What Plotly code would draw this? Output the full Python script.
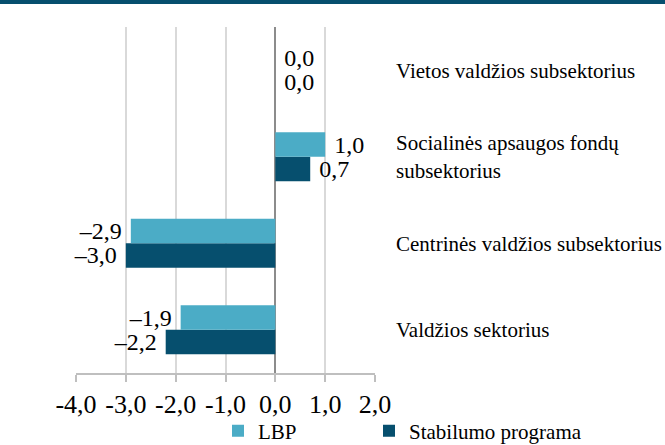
import plotly.graph_objects as go

categories = ["Valdžios sektorius", "Centrinės valdžios subsektorius",
              "Socialinės apsaugos fondų<br>subsektorius", "Vietos valdžios subsektorius"]
lbp = [-1.9, -2.9, 1.0, 0.0]
stab = [-2.2, -3.0, 0.7, 0.0]
tick_vals = [-4, -3, -2, -1, 0, 1, 2]
tick_text = ["-4,0", "-3,0", "-2,0", "-1,0", "0,0", "1,0", "2,0"]

LIGHT = "#4BACC6"
DARK = "#064F6E"
FONT = "Liberation Serif"
NBSP = "\u00a0"


def fmt(v):
    s = f"{abs(v):.1f}".replace(".", ",")
    return ("–" + s + NBSP) if v < 0 else (NBSP + s)


fig = go.Figure()
fig.add_trace(go.Bar(
    y=categories, x=stab, orientation="h", name="Stabilumo programa",
    marker=dict(color=DARK, line=dict(width=0)), text=[fmt(v) for v in stab],
    textposition="outside", cliponaxis=False, constraintext="none",
    textfont=dict(family=FONT, size=24, color="#000000"), legend="legend2",
))
fig.add_trace(go.Bar(
    y=categories, x=lbp, orientation="h", name="LBP",
    marker=dict(color=LIGHT, line=dict(width=0)), text=[fmt(v) for v in lbp],
    textposition="outside", cliponaxis=False, constraintext="none",
    textfont=dict(family=FONT, size=24, color="#000000"), legend="legend",
))

plot_h = 445 - 27 - 72
leg_common = dict(xref="container", xanchor="left", yref="container", y=14 / 445,
                  yanchor="middle", font=dict(family=FONT, size=21, color="#000000"),
                  bgcolor="rgba(0,0,0,0)")
fig.update_layout(
    width=665, height=445,
    margin=dict(l=76, r=290, t=27, b=72, autoexpand=False),
    barmode="group", bargap=0.434, bargroupgap=0,
    plot_bgcolor="white", paper_bgcolor="white",
    font=dict(family=FONT, size=21, color="#000000"),
    showlegend=True,
    legend=dict(x=218 / 665, **leg_common),
    legend2=dict(x=369 / 665, **leg_common),
    xaxis=dict(range=[-4, 2], tickvals=tick_vals, ticktext=tick_text,
               showgrid=True, gridcolor="#D9D9D9", gridwidth=1.5,
               zeroline=True, zerolinecolor="#8C8C8C", zerolinewidth=1.5,
               showline=True, linecolor="#BFBFBF", linewidth=1.5,
               ticks="outside", ticklen=7, tickcolor="#BFBFBF", tickwidth=1.5,
               tickfont=dict(family=FONT, size=26, color="#000000"),
               automargin=False, fixedrange=True),
    yaxis=dict(side="right", showline=False, showgrid=False, zeroline=False,
               ticks="", ticklabelstandoff=20, automargin=False, fixedrange=True,
               tickfont=dict(family=FONT, size=21, color="#000000"),
               categoryorder="array", categoryarray=categories),
    shapes=[dict(type="rect", xref="paper", yref="paper",
                 x0=-1, x1=2, y0=1 + 23 / plot_h, y1=1 + 30 / plot_h,
                 fillcolor=DARK, line=dict(width=0), layer="above")],
)

fig.write_html("out.html", config={"displayModeBar": False},
               post_script="document.body.style.margin='0';document.body.style.padding='0';")
